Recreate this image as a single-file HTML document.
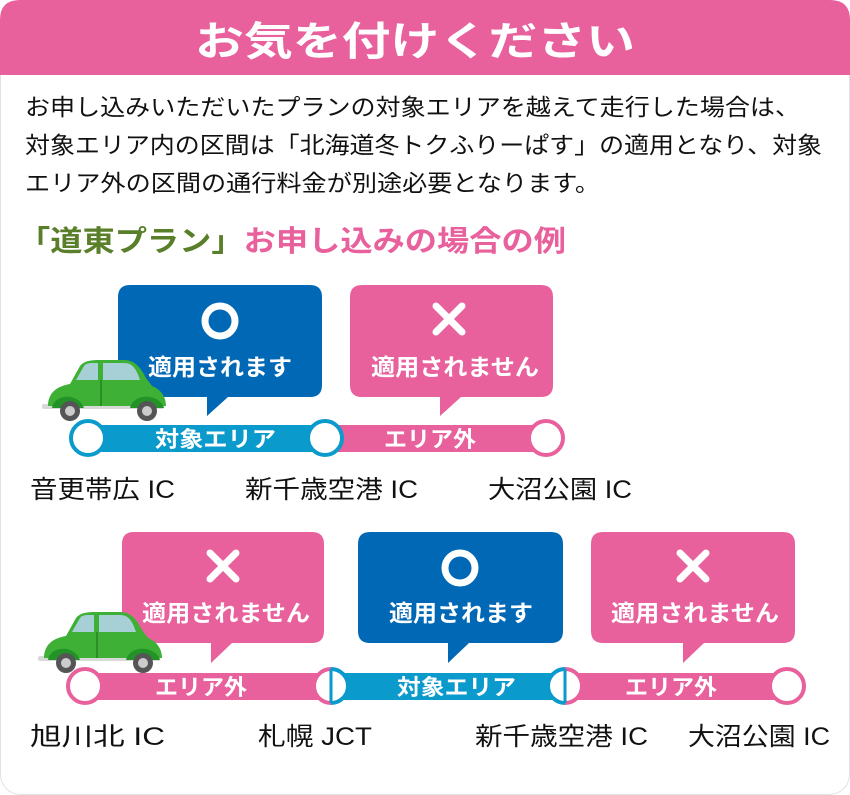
<!DOCTYPE html>
<html><head><meta charset="utf-8"><style>
html,body{margin:0;padding:0;background:#fff;}
svg{display:block;}
text{font-family:"Liberation Sans","Noto Sans CJK JP",sans-serif;}
</style></head><body>
<svg width="850" height="795" viewBox="0 0 850 795" xmlns="http://www.w3.org/2000/svg">
<defs>
<g id="car">
  <rect x="2" y="44" width="122" height="5" rx="2" fill="#d8d8d8"/>
  <path d="M8 46 C8 32 18 26 30 24 L40 6 C44 1 50 0 60 0 L84 0 C94 0 100 6 106 18 L112 26 C122 30 126 38 126 46 Z" fill="#3db035"/>
  <path d="M36 20 L44 6 C46 3 50 3 54 3 L58 3 L58 20 Z" fill="#a7d0d6"/>
  <path d="M63 3 L84 3 C92 3 96 8 100 20 L63 20 Z" fill="#a7d0d6"/>
  <rect x="60" y="20" width="2" height="26" fill="#2a8e27"/>
  <path d="M12 48 C14 34 38 32 44 48 Z" fill="#239327"/>
  <path d="M90 48 C94 32 120 34 124 48 Z" fill="#239327"/>
  <circle cx="30" cy="51" r="10" fill="#555"/><circle cx="30" cy="51" r="5" fill="#ccc"/>
  <circle cx="107" cy="51" r="10" fill="#555"/><circle cx="107" cy="51" r="5" fill="#ccc"/>
</g>
</defs>
<rect x="0.5" y="0.5" width="849" height="794" rx="20" fill="#fff" stroke="#e2e2e2"/>
<path d="M0 75 L0 20 Q0 0 20 0 L830 0 Q850 0 850 20 L850 75 Z" fill="#e8609c"/>
<text x="195" y="55" font-size="40" font-weight="bold" fill="#fff" textLength="440" lengthAdjust="spacingAndGlyphs">お気を付けください</text>
<g font-size="23" fill="#111">
<text x="25" y="115" textLength="775" lengthAdjust="spacingAndGlyphs">お申し込みいただいたプランの対象エリアを越えて走行した場合は、</text>
<text x="25" y="153" textLength="797" lengthAdjust="spacingAndGlyphs">対象エリア内の区間は「北海道冬トクふりーぱす」の適用となり、対象</text>
<text x="25" y="191" textLength="575" lengthAdjust="spacingAndGlyphs">エリア外の区間の通行料金が別途必要となります。</text>
</g>
<text x="18" y="251" font-size="29" font-weight="bold" fill="#5a7f2a" textLength="548" lengthAdjust="spacingAndGlyphs">「道東プラン」<tspan fill="#e8609c">お申し込みの場合の例</tspan></text>

<!-- Row 1 -->
<path d="M130 285 L310 285 Q322 285 322 297 L322 385 Q322 397 310 397 L228 397 L207 416 L207 397 L130 397 Q118 397 118 385 L118 297 Q118 285 130 285 Z" fill="#0068b5"/>
<circle cx="220" cy="321" r="15" fill="none" stroke="#fff" stroke-width="7"/>
<text x="148" y="375" font-size="23" font-weight="bold" fill="#fff" textLength="144" lengthAdjust="spacingAndGlyphs">適用されます</text>
<path d="M362 285 L541 285 Q553 285 553 297 L553 385 Q553 397 541 397 L461 397 L440 416 L440 397 L362 397 Q350 397 350 385 L350 297 Q350 285 362 285 Z" fill="#e8609c"/>
<path d="M436 306 L462 332 M462 306 L436 332" stroke="#fff" stroke-width="7" stroke-linecap="round"/>
<text x="371" y="375" font-size="23" font-weight="bold" fill="#fff" textLength="168" lengthAdjust="spacingAndGlyphs">適用されません</text>
<use href="#car" x="40" y="360"/>
<rect x="88" y="425" width="238" height="27" fill="#0a9acb"/>
<rect x="326" y="425" width="220" height="27" fill="#e8609c"/>
<circle cx="88" cy="438" r="17" fill="#fff" stroke="#0a9acb" stroke-width="4"/>
<circle cx="325" cy="438" r="17" fill="#fff" stroke="#0a9acb" stroke-width="4"/>
<circle cx="546" cy="438" r="17" fill="#fff" stroke="#e8609c" stroke-width="4"/>
<text x="155" y="447" font-size="22" font-weight="bold" fill="#fff" textLength="121" lengthAdjust="spacingAndGlyphs">対象エリア</text>
<text x="384" y="447" font-size="22" font-weight="bold" fill="#fff" textLength="92" lengthAdjust="spacingAndGlyphs">エリア外</text>
<g font-size="25" fill="#111">
<text x="30" y="498" textLength="145" lengthAdjust="spacingAndGlyphs">音更帯広 IC</text>
<text x="245" y="498" textLength="173" lengthAdjust="spacingAndGlyphs">新千歳空港 IC</text>
<text x="488" y="498" textLength="144" lengthAdjust="spacingAndGlyphs">大沼公園 IC</text>
</g>

<!-- Row 2 -->
<path d="M134 532 L312 532 Q324 532 324 544 L324 631 Q324 643 312 643 L232 643 L211 663 L211 643 L134 643 Q122 643 122 631 L122 544 Q122 532 134 532 Z" fill="#e8609c"/>
<path d="M210 553 L236 579 M236 553 L210 579" stroke="#fff" stroke-width="7" stroke-linecap="round"/>
<text x="142" y="621" font-size="23" font-weight="bold" fill="#fff" textLength="168" lengthAdjust="spacingAndGlyphs">適用されません</text>
<path d="M370 532 L551 532 Q563 532 563 544 L563 631 Q563 643 551 643 L469 643 L448 663 L448 643 L370 643 Q358 643 358 631 L358 544 Q358 532 370 532 Z" fill="#0068b5"/>
<circle cx="460" cy="568" r="15" fill="none" stroke="#fff" stroke-width="7"/>
<text x="389" y="621" font-size="23" font-weight="bold" fill="#fff" textLength="144" lengthAdjust="spacingAndGlyphs">適用されます</text>
<path d="M603 532 L783 532 Q795 532 795 544 L795 631 Q795 643 783 643 L704 643 L683 663 L683 643 L603 643 Q591 643 591 631 L591 544 Q591 532 603 532 Z" fill="#e8609c"/>
<path d="M680 553 L706 579 M706 553 L680 579" stroke="#fff" stroke-width="7" stroke-linecap="round"/>
<text x="611" y="621" font-size="23" font-weight="bold" fill="#fff" textLength="168" lengthAdjust="spacingAndGlyphs">適用されません</text>
<use href="#car" x="36" y="612"/>
<rect x="85" y="673" width="246" height="27" fill="#e8609c"/>
<rect x="331" y="673" width="234" height="27" fill="#0a9acb"/>
<rect x="565" y="673" width="222" height="27" fill="#e8609c"/>
<circle cx="85" cy="686" r="17" fill="#fff" stroke="#e8609c" stroke-width="4"/>
<path d="M331 669 A17 17 0 0 0 331 703" fill="#fff" stroke="#e8609c" stroke-width="4"/>
<path d="M331 669 A17 17 0 0 1 331 703" fill="#fff" stroke="#0a9acb" stroke-width="4"/>
<line x1="331" y1="669" x2="331" y2="703" stroke="#0a9acb" stroke-width="3"/>
<path d="M565 669 A17 17 0 0 0 565 703" fill="#fff" stroke="#0a9acb" stroke-width="4"/>
<path d="M565 669 A17 17 0 0 1 565 703" fill="#fff" stroke="#e8609c" stroke-width="4"/>
<line x1="565" y1="669" x2="565" y2="703" stroke="#0a9acb" stroke-width="3"/>
<circle cx="787" cy="686" r="17" fill="#fff" stroke="#e8609c" stroke-width="4"/>
<text x="155" y="695" font-size="22" font-weight="bold" fill="#fff" textLength="92" lengthAdjust="spacingAndGlyphs">エリア外</text>
<text x="397" y="695" font-size="22" font-weight="bold" fill="#fff" textLength="119" lengthAdjust="spacingAndGlyphs">対象エリア</text>
<text x="625" y="695" font-size="22" font-weight="bold" fill="#fff" textLength="92" lengthAdjust="spacingAndGlyphs">エリア外</text>
<g font-size="25" fill="#111">
<text x="30" y="745" textLength="135" lengthAdjust="spacingAndGlyphs">旭川北 IC</text>
<text x="258" y="745" textLength="114" lengthAdjust="spacingAndGlyphs">札幌 JCT</text>
<text x="475" y="745" textLength="173" lengthAdjust="spacingAndGlyphs">新千歳空港 IC</text>
<text x="688" y="745" textLength="142" lengthAdjust="spacingAndGlyphs">大沼公園 IC</text>
</g>
</svg>
</body></html>
